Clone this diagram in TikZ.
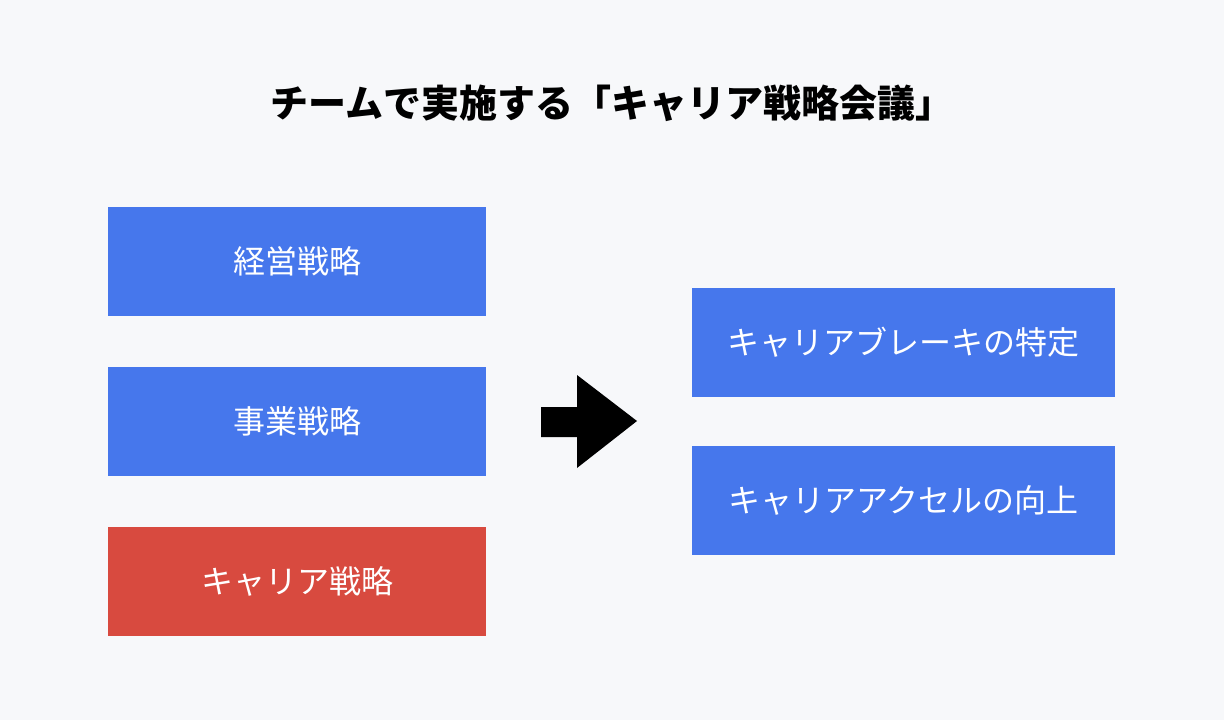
\documentclass[tikz,border=0pt]{standalone}
\usepackage{fontspec}
\setmainfont{Noto Sans CJK JP}
\usetikzlibrary{positioning}
\definecolor{bgcol}{HTML}{F7F8FA}
\definecolor{boxblue}{HTML}{4677EC}
\definecolor{boxred}{HTML}{D84A3F}
\tikzset{
  box/.style={fill=#1, text=white, minimum height=109pt, inner sep=0pt, font=\fontsize{32}{38}\selectfont},
  lbox/.style={box=#1, minimum width=378pt},
  rbox/.style={box=#1, minimum width=423pt}
}
\begin{document}
\begin{tikzpicture}[x=1pt, y=-1pt]
    \fill[bgcol] (0, 0) rectangle (1224, 720);
    \useasboundingbox (0, 0) rectangle (1224, 720);

    \node[font=\fontsize{38}{44}\selectfont\bfseries] at (612, 103) (title) {チームで実施する「キャリア戦略会議」};

    \node[lbox=boxblue] at (297, 261.5) (mgmt) {経営戦略};
    \node[lbox=boxblue] at (297, 421.5) (biz) {事業戦略};
    \node[lbox=boxred] at (297, 581.5) (career) {キャリア戦略};

    \node[rbox=boxblue] at (903.5, 342.5) (brake) {キャリアブレーキの特定};
    \node[rbox=boxblue] at (903.5, 500.5) (accel) {キャリアアクセルの向上};

    % block arrow
    \fill[black] (541, 407) -- (577, 407) -- (577, 375) -- (637, 421)
        -- (577, 468) -- (577, 437) -- (541, 437) -- cycle;
\end{tikzpicture}
\end{document}
